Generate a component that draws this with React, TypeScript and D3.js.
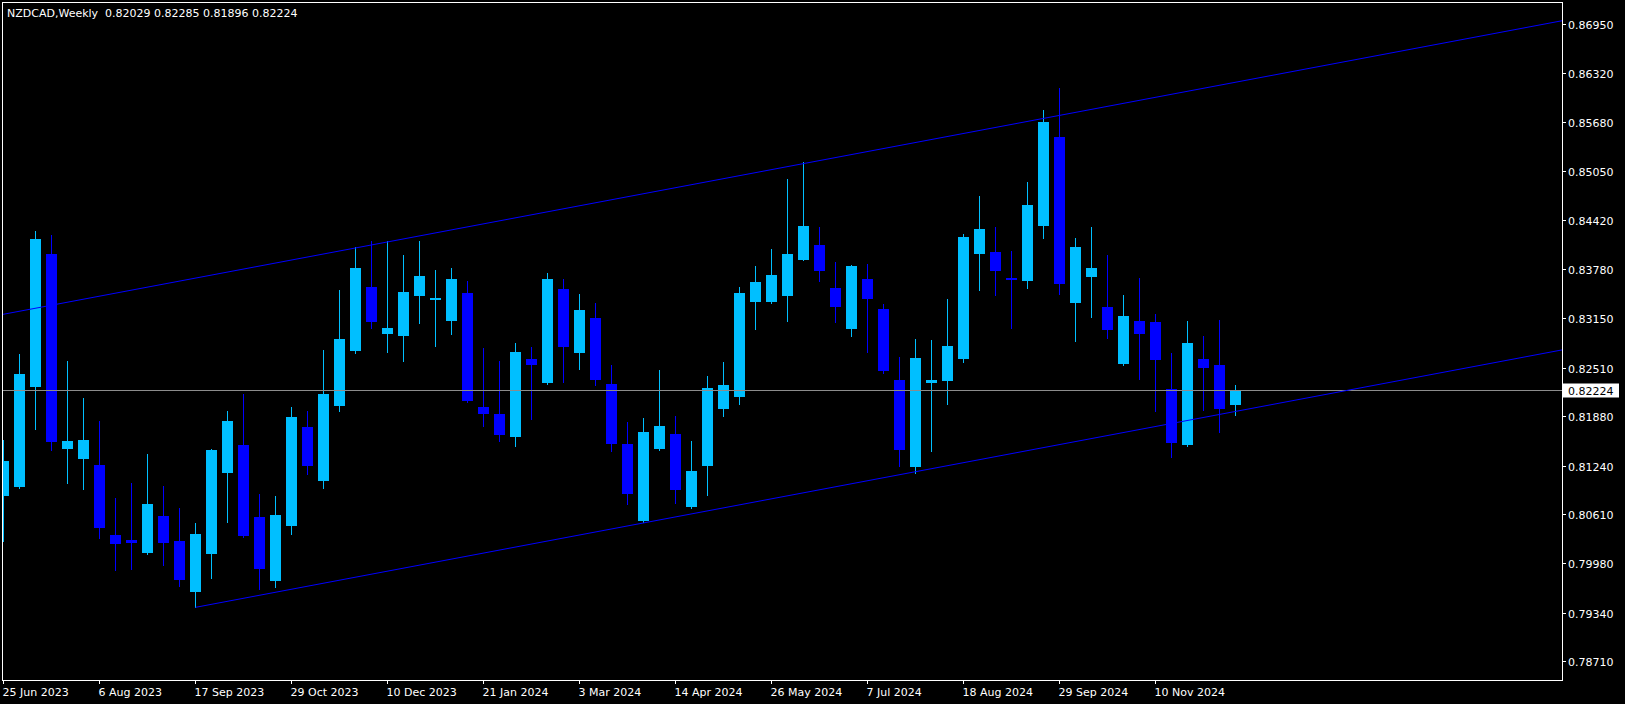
import React, { useRef, useEffect } from 'react';
import * as d3 from 'd3';

const symbol = 'NZDCAD,Weekly';
const firstWeek = '2023-06-25';

// weekly OHLC
const opens = [
  0.80852, 0.80968, 0.82262, 0.83979, 0.81456, 0.81331, 0.81245, 0.80344, 0.80279, 0.80115,
  0.80589, 0.80266, 0.79610, 0.80102, 0.81150, 0.81508, 0.80576, 0.79752, 0.80464, 0.81741,
  0.81046, 0.82016, 0.82728, 0.83548, 0.82948, 0.82922, 0.83439, 0.83387, 0.83116, 0.83474,
  0.81999, 0.81909, 0.81615, 0.82620, 0.82314, 0.83526, 0.82702, 0.83151, 0.82297, 0.81521,
  0.80529, 0.81460, 0.81650, 0.80710, 0.81240, 0.81977, 0.82133, 0.83362, 0.83362, 0.83439,
  0.83905, 0.84095, 0.83539, 0.83012, 0.83655, 0.83267, 0.82349, 0.81227, 0.82314, 0.82340,
  0.82624, 0.83983, 0.84004, 0.83668, 0.83629, 0.84345, 0.85492, 0.83349, 0.83685, 0.83293,
  0.82560, 0.83112, 0.83099, 0.82232, 0.81512, 0.82620, 0.82543, 0.82029,
];
const highs = [
  0.81573, 0.82685, 0.84276, 0.84224, 0.82594, 0.82116, 0.81818, 0.80822, 0.81016, 0.81391,
  0.80977, 0.80693, 0.80499, 0.81456, 0.81948, 0.82168, 0.80874, 0.80848, 0.81999, 0.81948,
  0.82737, 0.83513, 0.84069, 0.84143, 0.84143, 0.83966, 0.84143, 0.83772, 0.83798, 0.83629,
  0.82763, 0.82594, 0.82827, 0.82776, 0.83733, 0.83655, 0.83461, 0.83345, 0.82543, 0.81805,
  0.81857, 0.82478, 0.81883, 0.81560, 0.82400, 0.82582, 0.83552, 0.83823, 0.84043, 0.84949,
  0.85169, 0.84328, 0.83875, 0.83836, 0.83849, 0.83332, 0.82646, 0.82879, 0.82866, 0.83396,
  0.84237, 0.84729, 0.84328, 0.84017, 0.84910, 0.85841, 0.86126, 0.84186, 0.84328, 0.83966,
  0.83448, 0.83668, 0.83202, 0.82698, 0.83112, 0.82918, 0.83125, 0.82285,
];
const lows = [
  0.80266, 0.80958, 0.81719, 0.81447, 0.81020, 0.80943, 0.80309, 0.79895, 0.79908, 0.80104,
  0.79959, 0.79688, 0.79408, 0.79791, 0.80516, 0.80324, 0.79649, 0.79675, 0.80360, 0.81137,
  0.80955, 0.81952, 0.82702, 0.83025, 0.82715, 0.82598, 0.83090, 0.82792, 0.82948, 0.82068,
  0.81757, 0.81563, 0.81499, 0.81844, 0.82303, 0.82327, 0.82495, 0.82288, 0.81434, 0.80749,
  0.80518, 0.81447, 0.80761, 0.80699, 0.80865, 0.81887, 0.82042, 0.83012, 0.83351, 0.83116,
  0.83895, 0.83633, 0.83103, 0.82922, 0.82715, 0.82443, 0.81240, 0.81150, 0.81434, 0.82042,
  0.82585, 0.83517, 0.83452, 0.83025, 0.83543, 0.84189, 0.83465, 0.82857, 0.83168, 0.82896,
  0.82549, 0.82366, 0.81952, 0.81357, 0.81501, 0.81964, 0.81680, 0.81896,
];
const closes = [
  0.81301, 0.82426, 0.84173, 0.81551, 0.81560, 0.81573, 0.80438, 0.80231, 0.80240, 0.80745,
  0.80244, 0.79765, 0.80357, 0.81443, 0.81818, 0.80335, 0.79904, 0.80602, 0.81870, 0.81240,
  0.82168, 0.82879, 0.83798, 0.83103, 0.83021, 0.83487, 0.83694, 0.83409, 0.83655, 0.82077,
  0.81913, 0.81637, 0.82711, 0.82547, 0.83655, 0.82779, 0.83254, 0.82353, 0.81525, 0.80878,
  0.81676, 0.81754, 0.80930, 0.81172, 0.82245, 0.82284, 0.83474, 0.83616, 0.83707, 0.83979,
  0.84341, 0.83759, 0.83297, 0.83823, 0.83400, 0.82469, 0.81447, 0.82633, 0.82349, 0.82788,
  0.84198, 0.84302, 0.83759, 0.83642, 0.84612, 0.85686, 0.83594, 0.84069, 0.83798, 0.82999,
  0.83177, 0.82948, 0.82611, 0.81538, 0.82827, 0.82508, 0.81977, 0.82224,
];

const priceTicks = [
  0.86950, 0.86320, 0.85680, 0.85050, 0.84420, 0.83780, 0.83150,
  0.82510, 0.81880, 0.81240, 0.80610, 0.79980, 0.79340, 0.78710,
];
const dateTicks = [
  '2023-06-25', '2023-08-06', '2023-09-17', '2023-10-29', '2023-12-10', '2024-01-21', '2024-03-03',
  '2024-04-14', '2024-05-26', '2024-07-07', '2024-08-18', '2024-09-29', '2024-11-10',
];

// channel anchors: [week index, price]
const upperChannel = [[0, 0.83199], [77, 0.86200]];
const lowerChannel = [[12, 0.79408], [77, 0.81942]];

const BULL = '#00bfff';
const BEAR = '#0000ff';

const NzdCadChart = () => {
  const chartRef = useRef(null);

  useEffect(() => {
    const container = d3.select(chartRef.current);
    container.selectAll('svg').remove();

    const width = 1625;
    const height = 704;
    const left = 2, top = 2, right = 1562, bottom = 680;
    const font = '"DejaVu Sans", Verdana, sans-serif';

    const svg = container.append('svg')
      .attr('width', width)
      .attr('height', height)
      .style('position', 'absolute')
      .style('left', '0px')
      .style('top', '0px')
      .style('display', 'block');

    svg.append('rect').attr('width', width).attr('height', height).attr('fill', '#000');

    // one bar every 16px, first bar centred at x=3.5
    const x = d3.scaleLinear().domain([0, 97.5]).range([3.5, 1563.5]);
    const y = d3.scaleLinear().domain([0.78468, 0.87238]).range([bottom, top]);

    const weekMs = 7 * 24 * 3600 * 1000;
    const parse = d3.utcParse('%Y-%m-%d');
    const start = parse(firstWeek)!.getTime();
    const weekIndex = (s: string) => Math.round((parse(s)!.getTime() - start) / weekMs);
    const fmt = d3.utcFormat('%-d %b %Y');

    svg.append('defs').append('clipPath').attr('id', 'plot')
      .append('rect').attr('x', left + 1).attr('y', top + 1)
      .attr('width', right - left - 1).attr('height', bottom - top - 1);

    const plot = svg.append('g').attr('clip-path', 'url(#plot)');

    const candles = opens.map((o, i) => ({ i, o, h: highs[i], l: lows[i], c: closes[i] }));

    // wicks
    plot.selectAll('.wick')
      .data(candles)
      .enter()
      .append('line')
      .attr('class', 'wick')
      .attr('x1', (d: any) => x(d.i))
      .attr('x2', (d: any) => x(d.i))
      .attr('y1', (d: any) => Math.round(y(d.h)))
      .attr('y2', (d: any) => Math.round(y(d.l)) + 1)
      .attr('stroke', (d: any) => (d.c >= d.o ? BULL : BEAR))
      .attr('stroke-width', 1)
      .attr('shape-rendering', 'crispEdges');

    // bodies
    plot.selectAll('.body')
      .data(candles)
      .enter()
      .append('rect')
      .attr('class', 'body')
      .attr('x', (d: any) => x(d.i) - 5.5)
      .attr('width', 11)
      .attr('y', (d: any) => Math.round(y(Math.max(d.o, d.c))))
      .attr('height', (d: any) => Math.max(1, Math.round(y(Math.min(d.o, d.c))) - Math.round(y(Math.max(d.o, d.c)))))
      .attr('fill', (d: any) => (d.c >= d.o ? BULL : BEAR))
      .attr('shape-rendering', 'crispEdges');

    // bid line
    const last = closes[closes.length - 1];
    const bidY = Math.round(y(last)) + 0.5;
    plot.append('line')
      .attr('x1', left).attr('x2', right)
      .attr('y1', bidY).attr('y2', bidY)
      .attr('stroke', '#8c8c8c')
      .attr('stroke-width', 1);

    // channel lines, extended as rays to the right edge
    const ray = (pts: number[][], fromLeft: boolean) => {
      const [[i0, p0], [i1, p1]] = pts;
      const slope = (p1 - p0) / (i1 - i0);
      const iStart = fromLeft ? x.invert(left) : i0;
      const iEnd = x.invert(right);
      return [[iStart, p0 + slope * (iStart - i0)], [iEnd, p0 + slope * (iEnd - i0)]];
    };
    const line = d3.line<number[]>().x((d) => x(d[0])).y((d) => y(d[1]));
    [ray(upperChannel, true), ray(lowerChannel, false)].forEach((seg) => {
      plot.append('path')
        .attr('d', line(seg))
        .attr('fill', 'none')
        .attr('stroke', '#0000ff')
        .attr('stroke-width', 1);
    });

    // frame
    svg.append('rect')
      .attr('x', left + 0.5).attr('y', top + 0.5)
      .attr('width', right - left).attr('height', bottom - top)
      .attr('fill', 'none')
      .attr('stroke', '#fff')
      .attr('stroke-width', 1);

    // price axis
    const yAxis = svg.append('g');
    priceTicks.forEach((p) => {
      const ty = Math.round(y(p)) + 0.5;
      yAxis.append('line')
        .attr('x1', right + 0.5).attr('x2', right + 4)
        .attr('y1', ty).attr('y2', ty)
        .attr('stroke', '#fff');
      yAxis.append('text')
        .attr('x', right + 6)
        .attr('y', ty + 4)
        .attr('fill', '#fff')
        .style('font-family', font)
        .style('font-size', '11px')
        .text(p.toFixed(5));
    });

    // bid label
    yAxis.append('rect')
      .attr('x', right + 1).attr('y', bidY - 7)
      .attr('width', 56).attr('height', 14)
      .attr('fill', '#fff');
    yAxis.append('text')
      .attr('x', right + 6)
      .attr('y', bidY + 4)
      .attr('fill', '#000')
      .style('font-family', font)
      .style('font-size', '11px')
      .text(last.toFixed(5));

    // time axis
    const xAxis = svg.append('g');
    dateTicks.forEach((s) => {
      const tx = x(weekIndex(s));
      xAxis.append('line')
        .attr('x1', tx).attr('x2', tx)
        .attr('y1', bottom).attr('y2', bottom + 4)
        .attr('stroke', '#fff');
      xAxis.append('text')
        .attr('x', tx - 1)
        .attr('y', bottom + 16)
        .attr('fill', '#fff')
        .style('font-family', font)
        .style('font-size', '11px')
        .text(fmt(parse(s)!));
    });

    // header
    svg.append('text')
      .attr('x', 7)
      .attr('y', 17)
      .attr('fill', '#fff')
      .style('font-family', font)
      .style('font-size', '11px')
      .style('white-space', 'pre')
      .attr('xml:space', 'preserve')
      .text(`${symbol}  ${opens[77].toFixed(5)} ${highs[77].toFixed(5)} ${lows[77].toFixed(5)} ${closes[77].toFixed(5)}`);
  }, []);

  return <div ref={chartRef}></div>;
};

export default function App() {
  return <NzdCadChart />;
}
